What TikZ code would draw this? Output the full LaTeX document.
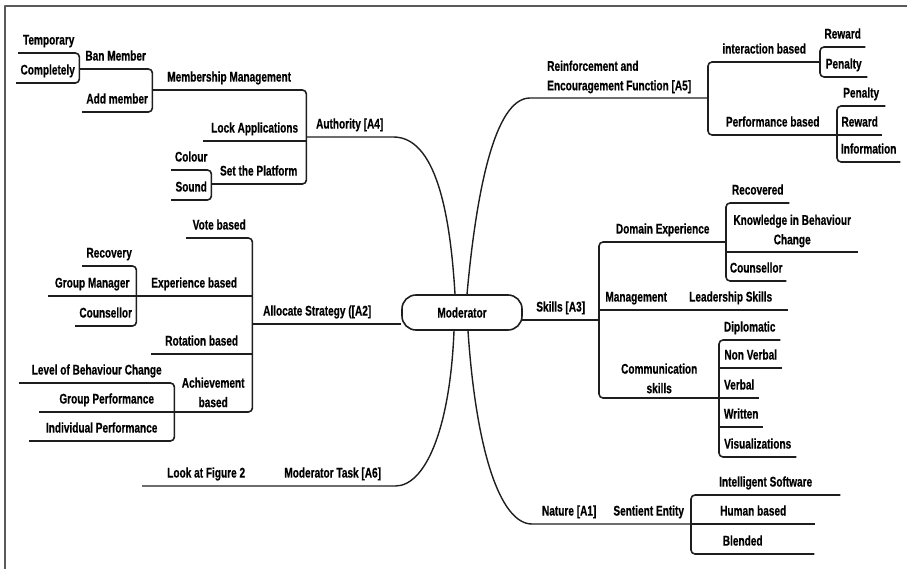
\documentclass[tikz,border=0pt]{standalone}
\usepackage{fontspec}
\setmainfont{Liberation Sans}[FakeStretch=0.72, BoldFeatures={FakeBold=0.5}]
\usepackage{tikz}
\usetikzlibrary{positioning}
\definecolor{inkdark}{RGB}{30, 30, 30}
\definecolor{framegray}{RGB}{90, 90, 90}

\begin{document}
\begin{tikzpicture}[x=1pt, y=-1pt, line join=round,
    bar/.style={anchor=south west, minimum height=24pt, inner sep=0pt, text height=10pt, text depth=2.5pt, font=\fontsize{14}{19.5}\selectfont\bfseries},
    duo/.style={anchor=south west, inner xsep=0pt, inner ysep=4.5pt, align=center, font=\fontsize{14}{19.5}\selectfont\bfseries},
    stem/.style={draw=inkdark, line width=1.6pt, rounded corners=4pt},
    twig/.style={draw=inkdark, line width=1.4pt}]
    \useasboundingbox (0,0) rectangle (907,569);
    \draw[framegray, line width=1.2pt] (5,569) -- (5,6) -- (907,6);

    \node[draw=inkdark, line width=1.6pt, rounded corners=14pt, minimum width=120pt, minimum height=35pt, font=\fontsize{14}{19.5}\selectfont\bfseries] (mod) at (462,312.5) {Moderator};

    % authority
    \node[bar, minimum width=61pt] (temp) at (18,53) {Temporary};
    \node[bar, minimum width=63pt] (compl) at (16,83) {Completely};
    \node[bar, minimum width=73pt] (ban) at (79,69) {Ban Member};
    \node[bar, minimum width=70pt] (addm) at (82,112) {Add member};
    \node[bar, minimum width=154pt] (memb) at (152,90) {Membership Management};
    \node[bar, minimum width=103pt] (lock) at (203,141) {Lock Applications};
    \node[bar, minimum width=40pt] (colour) at (171,170) {Colour};
    \node[bar, minimum width=40pt] (sound) at (171,200) {Sound};
    \node[bar, minimum width=95pt] (platf) at (211,184) {Set the Platform};
    \node[bar, minimum width=87pt] (auth) at (306,137) {Authority [A4]};

    \draw[stem] (temp.south west) -- (temp.south east) -- (compl.south east) -- (compl.south west);
    \draw[stem] (ban.south west) -- (ban.south east) -- (addm.south east) -- (addm.south west);
    \draw[stem] (colour.south west) -- (colour.south east) -- (sound.south east) -- (sound.south west);
    \draw[stem] (memb.south west) -- (memb.south east) -- (platf.south east) -- (platf.south west);
    \draw[stem] (lock.south west) -- (lock.south east);
    \draw[twig] (auth.south west) -- (auth.south east) .. controls (435,137) and (450,210) .. ([xshift=-7pt]mod.north);

    % allocation
    \node[bar, minimum width=66pt] (vote) at (186,238) {Vote based};
    \node[bar, minimum width=54pt] (recov) at (82,266) {Recovery};
    \node[bar, minimum width=88pt] (gmgr) at (48,296) {Group Manager};
    \node[bar, minimum width=61pt] (couns) at (75,326) {Counsellor};
    \node[bar, minimum width=116pt] (exper) at (136,296) {Experience based};
    \node[bar, minimum width=101pt] (rotat) at (151,354) {Rotation based};
    \node[bar, minimum width=155pt] (lvl) at (19,383) {Level of Behaviour Change};
    \node[bar, minimum width=135pt] (gperf) at (39,412) {Group Performance};
    \node[bar, minimum width=145pt] (iperf) at (29,441) {Individual Performance};
    \node[duo, minimum width=78pt] (achv) at (174,412) {Achievement\\based};
    \node[bar, minimum width=130pt] (alloc) at (252,324) {Allocate Strategy ([A2]};

    \draw[stem] (recov.south west) -- (recov.south east) -- (couns.south east) -- (couns.south west);
    \draw[stem] (gmgr.south west) -- (gmgr.south east);
    \draw[stem] (lvl.south west) -- (lvl.south east) -- (iperf.south east) -- (iperf.south west);
    \draw[stem] (gperf.south west) -- (gperf.south east);
    \draw[stem] (vote.south west) -- (vote.south east) -- (achv.south east) -- (achv.south west);
    \draw[stem] (exper.south west) -- (exper.south east);
    \draw[stem] (rotat.south west) -- (rotat.south east);
    \draw[stem] (alloc.south west) -- (alloc.south east) -- (alloc.south east -| mod.west);

    % task
    \node[bar, minimum width=128pt] (look) at (142,486) {Look at Figure 2};
    \node[bar, minimum width=125pt] (task) at (270,486) {Moderator Task [A6]};
    \draw[twig] (look.south west) -- (task.south east) .. controls (425,486) and (450,430) .. ([xshift=-8pt]mod.south);

    % reinforcement
    \node[duo, align=left, minimum width=178pt] (reinf) at (530,98) {Reinforcement and\\Encouragement Function [A5]};
    \node[bar, minimum width=112pt] (inter) at (708,62) {interaction based};
    \node[bar, minimum width=45pt] (rew1) at (820,47) {Reward};
    \node[bar, minimum width=47pt] (pen1) at (820,77) {Penalty};
    \node[bar, minimum width=129pt] (perf) at (708,135) {Performance based};
    \node[bar, minimum width=48pt] (pen2) at (837,106) {Penalty};
    \node[bar, minimum width=45pt] (rew2) at (837,135) {Reward};
    \node[bar, minimum width=63pt] (info) at (837,162) {Information};

    \draw[stem] (rew1.south east) -- (rew1.south west) -- (pen1.south west) -- (pen1.south east);
    \draw[stem] (pen2.south east) -- (pen2.south west) -- (info.south west) -- (info.south east);
    \draw[stem] (rew2.south west) -- (rew2.south east);
    \draw[stem] (inter.south east) -- (inter.south west) -- (perf.south west) -- (perf.south east);
    \draw[twig] ([xshift=5pt]mod.north) .. controls (476,195) and (494,98) .. (reinf.south west) -- (reinf.south east);

    % skills
    \node[bar, minimum width=77pt] (skills) at (522,320) {Skills [A3]};
    \node[bar, minimum width=127pt] (domain) at (599,242) {Domain Experience};
    \node[bar, minimum width=63pt] (recvd) at (726,203) {Recovered};
    \node[duo, minimum width=132pt] (know) at (726,252) {Knowledge in Behaviour\\Change};
    \node[bar, minimum width=60pt] (couns2) at (726,281) {Counsellor};
    \node[bar, minimum width=74pt] (mgmt) at (599,310) {Management};
    \node[bar, minimum width=115pt] (lead) at (673,310) {Leadership Skills};
    \node[duo, minimum width=120pt] (comm) at (599,398) {Communication\\skills};
    \node[bar, minimum width=61pt] (diplo) at (719,340) {Diplomatic};
    \node[bar, minimum width=63pt] (nonv) at (719,368) {Non Verbal};
    \node[bar, minimum width=40pt] (verbal) at (719,398) {Verbal};
    \node[bar, minimum width=44pt] (written) at (719,427) {Written};
    \node[bar, minimum width=77pt] (visual) at (719,457) {Visualizations};

    \draw[stem] (recvd.south east) -- (recvd.south west) -- (couns2.south west) -- (couns2.south east);
    \draw[stem] (know.south west) -- (know.south east);
    \draw[stem] (diplo.south east) -- (diplo.south west) -- (visual.south west) -- (visual.south east);
    \draw[stem] (nonv.south west) -- (nonv.south east);
    \draw[stem] (verbal.south west) -- (verbal.south east);
    \draw[stem] (written.south west) -- (written.south east);
    \draw[stem] (domain.south east) -- (domain.south west) -- (comm.south west) -- (comm.south east);
    \draw[stem] (mgmt.south west) -- (lead.south east);
    \draw[stem] (skills.south west) -- (skills.south east);

    % nature
    \node[bar, minimum width=74pt] (nature) at (532,524) {Nature [A1]};
    \node[bar, minimum width=85pt] (sentient) at (606,524) {Sentient Entity};
    \node[bar, minimum width=149pt] (intsw) at (691,495) {Intelligent Software};
    \node[bar, minimum width=124pt] (human) at (691,524) {Human based};
    \node[bar, minimum width=123pt] (blend) at (691,554) {Blended\hspace*{20pt}};

    \draw[stem] (intsw.south east) -- (intsw.south west) -- (blend.south west) -- (blend.south east);
    \draw[stem] (human.south west) -- (human.south east);
    \draw[twig] ([xshift=6pt]mod.south) .. controls (476,450) and (500,524) .. (nature.south west) -- (sentient.south east);
\end{tikzpicture}
\end{document}
